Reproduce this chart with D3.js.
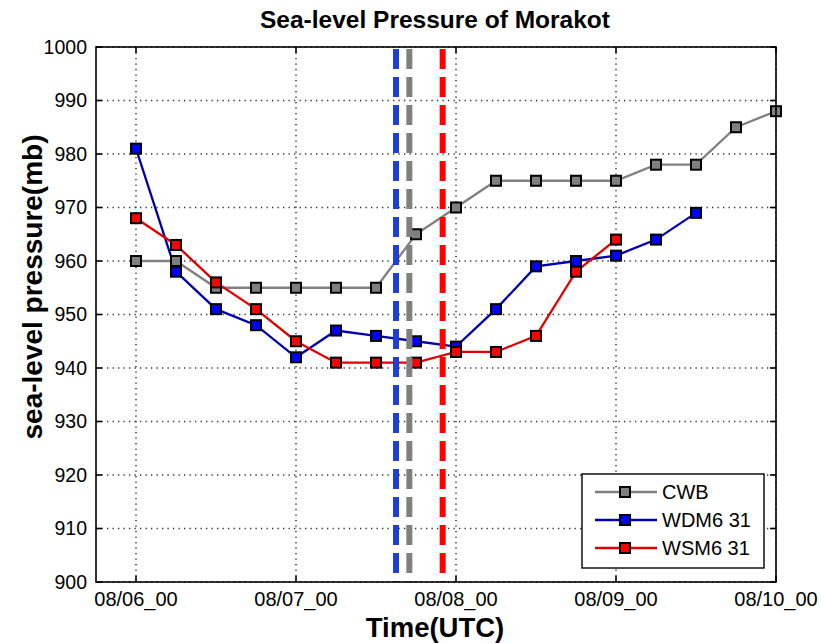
<!DOCTYPE html>
<html><head><meta charset="utf-8">
<script src="https://cdn.jsdelivr.net/npm/d3@7"></script>
<style>body{margin:0;background:#fff} text{font-family:"Liberation Sans",Arial,sans-serif;fill:#000}</style>
</head><body><svg id="c" width="821" height="643"></svg>
<script>
// ---- data ----
const timeLabels = ["08/06_00","08/06_06","08/06_12","08/06_18","08/07_00","08/07_06","08/07_12","08/07_18",
  "08/08_00","08/08_06","08/08_12","08/08_18","08/09_00","08/09_06","08/09_12","08/09_18","08/10_00"];
const cwb  = [960,960,955,955,955,955,955,965,970,975,975,975,975,978,978,985,988];
const wdm6 = [981,958,951,948,942,947,946,945,944,951,959,960,961,964,969];
const wsm6 = [968,963,956,951,945,941,941,941,943,943,946,958,964];
const seriesNames = ["CWB","WDM6 31","WSM6 31"];
const xTickLabels = ["08/06_00","08/07_00","08/08_00","08/09_00","08/10_00"];
const yTicks = [900,910,920,930,940,950,960,970,980,990,1000];
const eventTimes = ["08/07_15","08/07_17","08/07_22"];
const eventNames = ["WDM6 31","CWB","WSM6 31"];

// ---- helpers ----
const hrs = s => { const d=+s.slice(3,5), h=+s.slice(6,8); return (d-6)*24+h; };
const W=821,H=643, L=96,R=776,T=47,B=582;
const x = d3.scaleLinear().domain([-6,96]).range([L,R]);
const y = d3.scaleLinear().domain([900,1000]).range([B,T]);
const svg = d3.select("#c");
const lineCol = {"CWB":"#808080","WDM6 31":"#0000b0","WSM6 31":"#e00000"};
const fillCol = {"CWB":"#808080","WDM6 31":"#0000ff","WSM6 31":"#ff0000"};
const dashCol = {"CWB":"#808080","WDM6 31":"#1d3fd6","WSM6 31":"#ff0000"};
const data = [cwb,wdm6,wsm6].map((v,i)=>({name:seriesNames[i], pts:v.map((p,j)=>({t:hrs(timeLabels[j]),v:p}))}));

svg.append("rect").attr("width",W).attr("height",H).attr("fill","#fff");

// grid
const g = svg.append("g");
g.selectAll("line.gx").data(xTickLabels).join("line")
  .attr("x1",d=>x(hrs(d))).attr("x2",d=>x(hrs(d))).attr("y1",T).attr("y2",B)
  .attr("stroke","#333").attr("stroke-width",1.5).attr("stroke-dasharray","1.3,4.2");
g.selectAll("line.gy").data(yTicks).join("line")
  .attr("y1",d=>y(d)).attr("y2",d=>y(d)).attr("x1",L).attr("x2",R)
  .attr("stroke","#333").attr("stroke-width",1.5).attr("stroke-dasharray","1.3,4.2");

// series
const line = d3.line().x(d=>x(d.t)).y(d=>y(d.v));
const sg = svg.append("g");
data.forEach(s=>{
  sg.append("path").attr("d",line(s.pts)).attr("fill","none")
    .attr("stroke",lineCol[s.name]).attr("stroke-width",2.3);
});
data.forEach(s=>{
  sg.selectAll(null).data(s.pts).join("rect")
    .attr("x",d=>x(d.t)-5).attr("y",d=>y(d.v)-5).attr("width",10).attr("height",10)
    .attr("fill",fillCol[s.name]).attr("stroke","#000").attr("stroke-width",2);
});

// event dashed lines
svg.selectAll("line.ev").data(eventTimes).join("line")
  .attr("x1",d=>x(hrs(d))).attr("x2",d=>x(hrs(d))).attr("y1",y(1000)+2).attr("y2",y(900))
  .attr("stroke",(d,i)=>dashCol[eventNames[i]]).attr("stroke-width",6)
  .attr("stroke-dasharray","20,8");

// axes box
const ax = svg.append("g");
ax.append("rect").attr("x",L).attr("y",T).attr("width",R-L).attr("height",B-T)
  .attr("fill","none").attr("stroke","#000").attr("stroke-width",1.6);
const tl=6;
xTickLabels.forEach(d=>{
  const xx=x(hrs(d));
  ax.append("line").attr("x1",xx).attr("x2",xx).attr("y1",B).attr("y2",B-tl).attr("stroke","#000").attr("stroke-width",1.6);
  ax.append("line").attr("x1",xx).attr("x2",xx).attr("y1",T).attr("y2",T+tl).attr("stroke","#000").attr("stroke-width",1.6);
  ax.append("text").attr("x",xx).attr("y",B+24).attr("text-anchor","middle")
    .attr("font-size",20).attr("fill","#222").text(d);
});
yTicks.forEach(d=>{
  const yy=y(d);
  ax.append("line").attr("x1",L).attr("x2",L+tl).attr("y1",yy).attr("y2",yy).attr("stroke","#000").attr("stroke-width",1.6);
  ax.append("line").attr("x1",R).attr("x2",R-tl).attr("y1",yy).attr("y2",yy).attr("stroke","#000").attr("stroke-width",1.6);
  ax.append("text").attr("x",L-9).attr("y",yy).attr("dy","0.35em").attr("text-anchor","end")
    .attr("font-size",19.5).attr("fill","#222").text(d);
});

// labels
svg.append("text").attr("x",435).attr("y",28).attr("text-anchor","middle")
  .attr("font-size",24.5).attr("font-weight","bold").text("Sea-level Pressure of Morakot");
svg.append("text").attr("x",435).attr("y",637).attr("text-anchor","middle")
  .attr("font-size",27.5).attr("font-weight","bold").text("Time(UTC)");
svg.append("text").attr("transform","translate(42,287) rotate(-90)").attr("text-anchor","middle")
  .attr("font-size",28).attr("font-weight","bold").text("sea-level pressure(mb)");

// legend
const lg = svg.append("g");
lg.append("rect").attr("x",582).attr("y",474).attr("width",182).attr("height",94)
  .attr("fill","#fff").attr("stroke","#000").attr("stroke-width",1.4);
seriesNames.forEach((n,i)=>{
  const yy = 492 + i*28;
  lg.append("line").attr("x1",595).attr("x2",657).attr("y1",yy).attr("y2",yy)
    .attr("stroke",lineCol[n]).attr("stroke-width",2.3);
  lg.append("rect").attr("x",620).attr("y",yy-5).attr("width",10).attr("height",10)
    .attr("fill",fillCol[n]).attr("stroke","#000").attr("stroke-width",2);
  lg.append("text").attr("x",662).attr("y",yy).attr("dy","0.36em").attr("font-size",20)
    .attr("fill","#222").text(n);
});
</script></body></html>
